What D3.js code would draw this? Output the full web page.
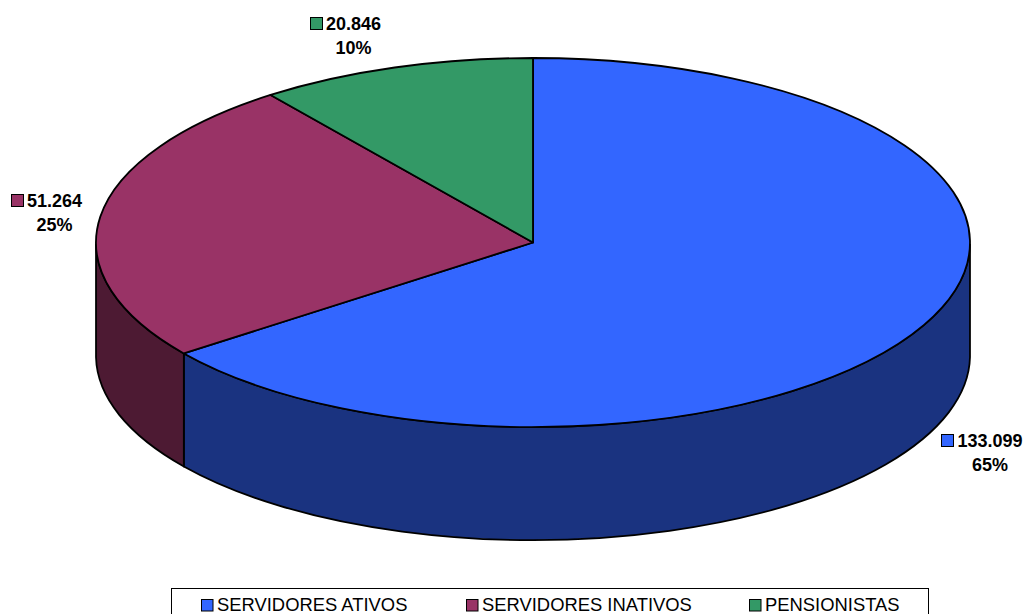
<!DOCTYPE html>
<html><head><meta charset="utf-8">
<script src="https://cdn.jsdelivr.net/npm/d3@7"></script>
<style>html,body{margin:0;padding:0;background:#fff;overflow:hidden}svg{display:block}text{font-family:"Liberation Sans",Arial,sans-serif;fill:#000}</style>
</head><body><svg id="c" width="1023" height="614"></svg>
<script>
const categories=["SERVIDORES ATIVOS","SERVIDORES INATIVOS","PENSIONISTAS"];
const values=[133099,51264,20846];
const valueLabels=["133.099","51.264","20.846"];
const percentLabels=["65%","25%","10%"];
const topColors=["#3366ff","#993366","#339966"];
const sideColors=["#1a3380","#4d1a33","#1a4d33"];
const labelPos=[[990,447],[54.5,207],[353.5,30]];
const legendX=[201,466,749];

const svg=d3.select("#c");
const cx=533,cy=242.5,rx=437,ry=184.5,depth=113;
const pie=d3.pie().sort(null).value(d=>d);
const arcs=pie(values);
// slight perspective correction of the drawn angle
const warp=a=>a+0.01*Math.sin(a);
const px=a=>cx+rx*Math.sin(warp(a)), py=a=>cy-ry*Math.cos(warp(a));
const sw=1.8;
const HALF=Math.PI/2, LOW=3*Math.PI/2;
arcs.forEach((d,i)=>{
  const a0=Math.max(d.startAngle,HALF),a1=Math.min(d.endAngle,LOW);
  if(a1<=a0)return;
  const p=`M${px(a0)},${py(a0)}A${rx},${ry} 0 0 1 ${px(a1)},${py(a1)}L${px(a1)},${py(a1)+depth}A${rx},${ry} 0 0 0 ${px(a0)},${py(a0)+depth}Z`;
  svg.append("path").attr("d",p).attr("fill",sideColors[i]).attr("stroke","#000").attr("stroke-width",sw).attr("stroke-linejoin","round");
});
svg.selectAll("path.top").data(arcs).join("path").attr("class","top")
 .attr("d",d=>{
   const large=d.endAngle-d.startAngle>Math.PI?1:0;
   return `M${cx},${cy}L${px(d.startAngle)},${py(d.startAngle)}A${rx},${ry} 0 ${large} 1 ${px(d.endAngle)},${py(d.endAngle)}Z`;
 })
 .attr("fill",(d,i)=>topColors[i]).attr("stroke","#000").attr("stroke-width",sw).attr("stroke-linejoin","round");
arcs.forEach((d,i)=>{
  const [x,y]=labelPos[i];
  const t=svg.append("text").attr("x",x).attr("y",y).attr("text-anchor","middle").attr("font-size",18).attr("font-weight","bold").text(valueLabels[i]);
  const w=t.node().getComputedTextLength();
  svg.append("rect").attr("x",Math.round(x-w/2-16)+.5).attr("y",y-12.5).attr("width",12).attr("height",12).attr("fill",topColors[i]).attr("stroke","#000").attr("stroke-width",1);
  svg.append("text").attr("x",x).attr("y",y+24).attr("text-anchor","middle").attr("font-size",18).attr("font-weight","bold").text(percentLabels[i]);
});
svg.append("rect").attr("x",171.5).attr("y",588.5).attr("width",757).attr("height",40).attr("fill","#fff").attr("stroke","#000").attr("stroke-width",1);
categories.forEach((c,i)=>{
  svg.append("rect").attr("x",legendX[i]+.5).attr("y",599.5).attr("width",11.5).attr("height",11.5).attr("fill",topColors[i]).attr("stroke","#000");
  svg.append("text").attr("x",legendX[i]+16).attr("y",611).attr("font-size",18.4).text(c);
});
</script></body></html>
